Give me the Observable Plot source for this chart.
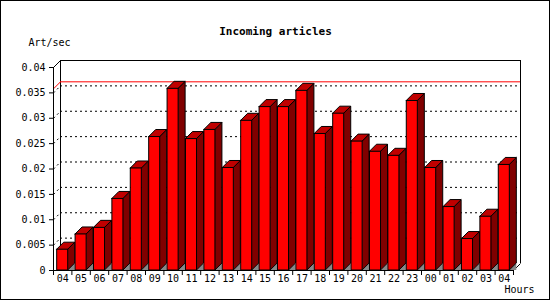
<!DOCTYPE html>
<html>
<head>
<meta charset="utf-8">
<script src="https://cdn.jsdelivr.net/npm/d3@7"></script>
<script src="https://cdn.jsdelivr.net/npm/@observablehq/plot@0.6"></script>
<style>
  html, body { margin: 0; padding: 0; background: white; }
</style>
</head>
<body>
<div id="chart"></div>
<script>
// ---- data ----
const hours = ["04","05","06","07","08","09","10","11","12","13","14","15","16","17","18","19","20","21","22","23","00","01","02","03","04"];
const artPerSec = [0.0041, 0.0071, 0.0084, 0.0141, 0.0201, 0.0263, 0.0358, 0.0259, 0.0277, 0.0202, 0.0295, 0.0322, 0.0322, 0.0354, 0.0269, 0.0309, 0.0254, 0.0234, 0.0226, 0.0334, 0.0202, 0.0125, 0.0062, 0.0106, 0.0208];
const yTicks = [0, 0.005, 0.01, 0.015, 0.02, 0.025, 0.03, 0.035, 0.04];
const yTickLabels = ["0", "0.005", "0.01", "0.015", "0.02", "0.025", "0.03", "0.035", "0.04"];
const gridTicks = [0.005, 0.01, 0.015, 0.02, 0.025, 0.03, 0.035];
const titleText = "Incoming articles";
const yLabel = "Art/sec";
const xLabel = "Hours";

// ---- layout ----
const W = 550, H = 300;
const ML = 53, MR = 37, MT = 67, MB = 30;
const DEPTH = 7;                 // 3D depth in pixels
const YMAX = 0.04;
const N = hours.length;
const DX = DEPTH * N / (W - ML - MR);      // depth in x (index) units
const DY = DEPTH * YMAX / (H - MT - MB);   // depth in y (value) units
const HW = 0.3;                  // half width of bar face in index units

const bars = artPerSec.map((v, i) => ({i, v}));
const shadowPts = bars.flatMap(d => [
  {i: d.i, x: d.i + HW, y1: 0, y2: 0},
  {i: d.i, x: d.i + HW + DX, y1: 0, y2: DY}
]);
const sidePts = bars.flatMap(d => [
  {i: d.i, x: d.i + HW, y1: 0, y2: d.v},
  {i: d.i, x: d.i + HW + DX, y1: DY, y2: d.v + DY}
]);
const topPts = bars.flatMap(d => [
  {i: d.i, y: d.v, x1: d.i - HW, x2: d.i + HW},
  {i: d.i, y: d.v + DY, x1: d.i - HW + DX, x2: d.i + HW + DX}
]);
const maxV = d3.max(artPerSec);
const boundaries = d3.range(N + 1).map(k => k - 0.5);
const idx = d3.range(N);

const chart = Plot.plot({
  width: W,
  height: H,
  marginLeft: ML,
  marginRight: MR,
  marginTop: MT,
  marginBottom: MB,
  style: {
    fontFamily: "'DejaVu Sans Mono', monospace",
    fontSize: "10px",
    background: "white",
    color: "black",
    outline: "1px solid black",
    outlineOffset: "-1px",
    overflow: "visible"
  },
  x: {type: "linear", domain: [-0.5, N - 0.5], axis: null},
  y: {type: "linear", domain: [0, YMAX], axis: null},
  marks: [
    // back wall grid lines (dotted)
    Plot.ruleY(gridTicks, {dx: DEPTH, dy: -DEPTH, stroke: "black", strokeDasharray: "2,3"}),
    // side wall diagonals for grid lines
    Plot.link(gridTicks, {x1: () => -0.5, y1: d => d, x2: () => -0.5 + DX, y2: d => d + DY, stroke: "black", strokeDasharray: "2,3"}),
    // back wall frame
    Plot.ruleY([YMAX], {dx: DEPTH, dy: -DEPTH, stroke: "black"}),
    Plot.ruleX([-0.5, N - 0.5], {dx: DEPTH, dy: -DEPTH, stroke: "black"}),
    Plot.link([YMAX], {x1: () => -0.5, y1: d => d, x2: () => -0.5 + DX, y2: d => d + DY, stroke: "black"}),
    Plot.link([0], {x1: () => N - 0.5, y1: d => d, x2: () => N - 0.5 + DX, y2: d => d + DY, stroke: "black"}),
    // max line
    Plot.ruleY([maxV], {dx: DEPTH, dy: -DEPTH, stroke: "#ff0000"}),
    Plot.link([maxV], {x1: () => -0.5, y1: d => d, x2: () => -0.5 + DX, y2: d => d + DY, stroke: "#ff0000"}),
    // 3D bars
    Plot.areaY(shadowPts, {x: "x", y1: "y1", y2: "y2", z: "i", fill: "#888888"}),
    Plot.areaY(sidePts, {x: "x", y1: "y1", y2: "y2", z: "i", fill: "#800000", stroke: "black"}),
    Plot.areaX(topPts, {y: "y", x1: "x1", x2: "x2", z: "i", fill: "#c00000", stroke: "black"}),
    Plot.rectY(bars, {x1: d => d.i - HW, x2: d => d.i + HW, y1: 0, y2: "v", fill: "#ff0000", stroke: "black"}),
    // front axes lines
    Plot.ruleX([-0.5], {stroke: "black"}),
    Plot.ruleY([0], {stroke: "black"}),
    // y axis ticks & labels
    Plot.axisY(yTicks, {
      anchor: "left",
      tickSize: 4,
      tickPadding: 4,
      tickFormat: (d, k) => yTickLabels[k],
      label: null,
      fontSize: 10
    }),
    // x axis ticks at category boundaries
    Plot.axisX(boundaries, {anchor: "bottom", tickSize: 5, tickFormat: () => "", label: null}),
    // x axis category labels
    Plot.axisX(idx, {anchor: "bottom", tickSize: 0, tickPadding: 4, tickFormat: d => hours[d], label: null, fontSize: 10}),
    // texts
    Plot.text([titleText], {text: d => d, frameAnchor: "top", dx: -8, dy: -40, fontWeight: "bold", fontSize: 11}),
    Plot.text([yLabel], {text: d => d, frameAnchor: "top-left", textAnchor: "start", dx: -25, dy: -29, fontSize: 10}),
    Plot.text([xLabel], {text: d => d, frameAnchor: "bottom-right", textAnchor: "start", dx: -9, dy: 22, fontSize: 10})
  ]
});
document.getElementById("chart").append(chart);
</script>
</body>
</html>
